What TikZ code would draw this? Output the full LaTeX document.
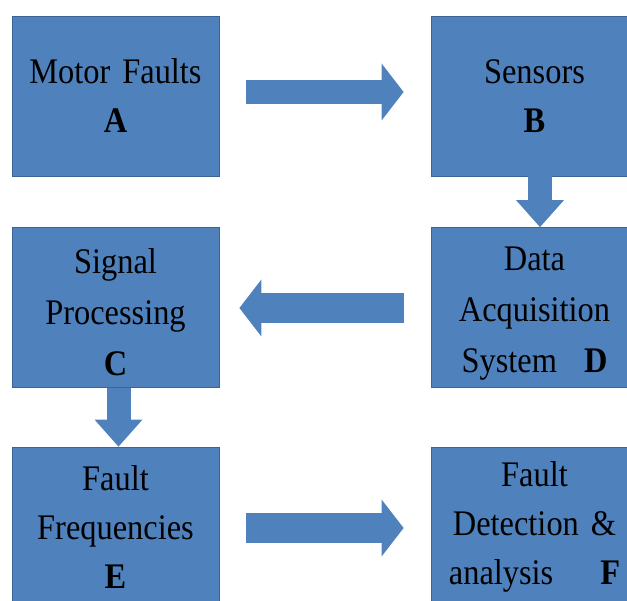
\documentclass[tikz,border=0pt]{standalone}
\usepackage{fontspec}
\setmainfont[FakeStretch=0.9,WordSpace=0.7]{Liberation Serif}
\usetikzlibrary{arrows.meta,calc}
\definecolor{stagefill}{HTML}{4F81BD}
\definecolor{stageline}{HTML}{3A6496}
\newcommand{\topgap}{\rule{0pt}{35pt}}
\tikzset{
  stagebox/.style={rectangle, fill=stagefill, draw=stageline, line width=0.8pt,
    minimum width=207pt, minimum height=160pt, text width=207pt, inner sep=0pt,
    align=center, font=\fontsize{36}{49}\selectfont, text=black},
  widelines/.style={font=\fontsize{36}{51}\selectfont},
  flowh/.style={draw=stagefill, line width=#1, line cap=butt,
    -{Triangle[width=57pt,length=22pt,line width=0pt]}},
  flowv/.style={draw=stagefill, line width=24pt, line cap=butt,
    -{Triangle[width=48pt,length=27pt,line width=0pt]}}
}
\begin{document}
\begin{tikzpicture}[x=1pt,y=1pt]
  \useasboundingbox (0,0) rectangle (627,-601);
  % process stages
  \node[stagebox] (A) at (115.5,-96)   {Motor Faults\\\textbf{A}};
  \node[stagebox] (B) at (534.5,-96)   {Sensors\\\textbf{B}};
  \node[stagebox,widelines] (C) at (115.5,-307.5) {\topgap Signal\\Processing\\\textbf{C}};
  \node[stagebox,widelines] (D) at (534.5,-307.5) {\topgap Data\\Acquisition\\System\hspace{27pt}\textbf{D}};
  \node[stagebox] (E) at (115.5,-527)  {Fault\\Frequencies\\\textbf{E}};
  \node[stagebox] (F) at (534.5,-527)  {Fault\\Detection \&\\analysis\hspace{47pt}\textbf{F}};
  % block arrows between the stages
  \draw[flowh=24pt] ($(A.east)+(27,4)$) -- ($(B.west)+(-27,4)$);
  \draw[flowv] ($(B.south)+(5.5,0)$) -- ($(D.north)+(5.5,0)$);
  \draw[flowh=30pt] ($(D.west)+(-27,-0.5)$) -- ($(C.east)+(20,-0.5)$);
  \draw[flowv] ($(C.south)+(3,0)$) -- ($(E.north)+(3,0)$);
  \draw[flowh=30pt] ($(E.east)+(27,-1)$) -- ($(F.west)+(-27,-1)$);
\end{tikzpicture}
\end{document}
